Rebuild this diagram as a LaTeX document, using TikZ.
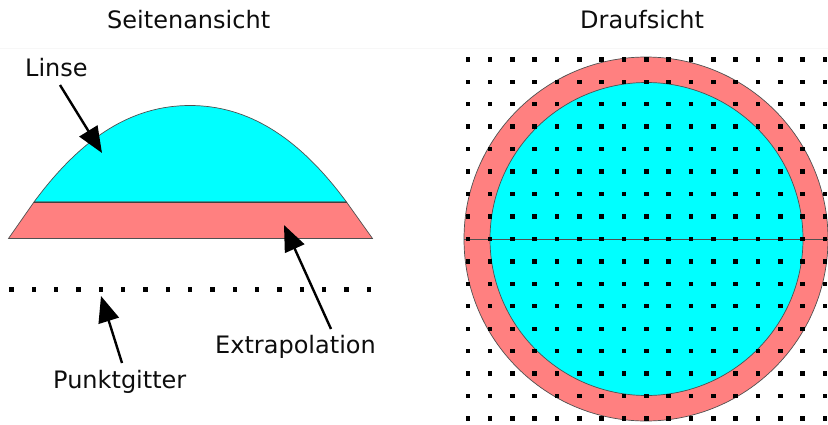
\documentclass[tikz,border=0pt]{standalone}
\usepackage{fontspec}
\setmainfont{DejaVu Sans}
\usetikzlibrary{arrows.meta}
\definecolor{lenscyan}{HTML}{00FFFF}
\definecolor{extrared}{HTML}{FF8080}
\definecolor{edgegray}{HTML}{505050}
\tikzset{
  label text/.style={anchor=base west,inner sep=0pt,font=\fontsize{24}{28}\selectfont,text=black!95},
  outline/.style={draw=edgegray,line width=0.7pt},
  pointer/.style={draw=black,line width=2.4pt,-{Triangle[length=26pt,width=21pt]}},
  griddot/.style={fill=black}
}
\begin{document}
\begin{tikzpicture}[x=1pt,y=-1pt]
\useasboundingbox (0,0) rectangle (828,424);
\draw[black!3,line width=0.6pt] (0,48) -- (828,48);
% side view
\path[outline,fill=lenscyan] (34,202) .. controls (82,137) and (132,105.5) .. (190,105.5) .. controls (248,105.5) and (298.5,137) .. (346.5,202) -- cycle;
\path[outline,fill=extrared] (34,202) -- (346.5,202) -- (372.5,238.5) -- (8.5,238.5) -- cycle;
\draw[black!75,line width=0.9pt] (34,202) -- (346.5,202);
\foreach \i in {0,...,16}
  \fill[griddot] ({11.5+22.33*\i-2.2},287.3) rectangle +(4.4,4.4);
% top view
\path[outline,fill=extrared] (646,239) circle[radius=182];
\path[outline,fill=lenscyan] (646.5,239) circle[radius=156.5];
\draw[edgegray,line width=0.8pt] (464,239) -- (828,239);
\foreach \i in {0,...,16}
  \foreach \j in {0,...,16}
    \fill[griddot] ({467.7+22.33*\i-2.2},{59.3+22.45*\j-2.2}) rectangle +(4.4,4.4);
% labels
\node[label text] (seite) at (107,28) {Seitenansicht};
\node[label text] (drauf) at (580,28) {Draufsicht};
\node[label text] (linse) at (25,76) {Linse};
\node[label text] (extra) at (215,353) {Extrapolation};
\node[label text] (punkt) at (53,388) {Punktgitter};
% pointers
\coordinate (linsestart) at (60,85);
\coordinate (linsetip) at (102,153);
\coordinate (extrastart) at (331,329);
\coordinate (extratip) at (284,225);
\coordinate (punktstart) at (122,363);
\coordinate (punkttip) at (101,296);
\draw[pointer] (linsestart) -- (linsetip);
\draw[pointer] (extrastart) -- (extratip);
\draw[pointer] (punktstart) -- (punkttip);
\end{tikzpicture}
\end{document}
